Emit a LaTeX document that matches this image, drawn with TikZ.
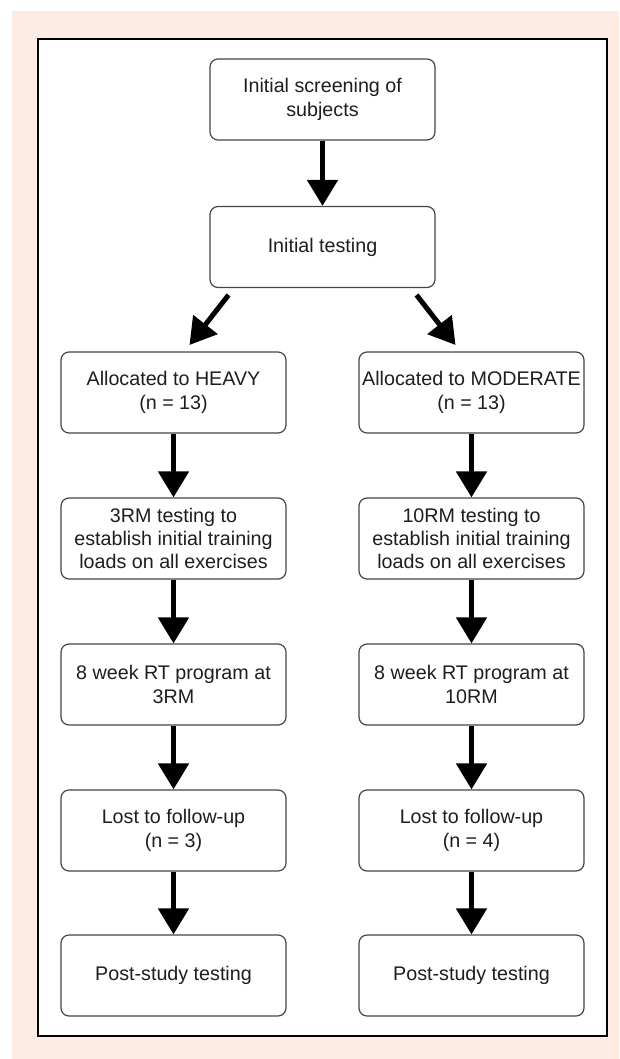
\documentclass[tikz,border=0pt]{standalone}
\usepackage{fontspec}
\setmainfont{Liberation Sans}
\usetikzlibrary{arrows.meta}
\definecolor{peach}{RGB}{253,236,227}
\definecolor{boxline}{RGB}{70,70,70}
\definecolor{txt}{RGB}{30,30,30}
\tikzset{
  flowbox/.style={draw=boxline, line width=1.2pt, rounded corners=8pt, fill=white,
    minimum width=225pt, minimum height=81pt, inner sep=0pt, align=center,
    text=txt, font=\fontsize{19.7}{23.3}\selectfont},
  flowarrow/.style={line width=5pt, -{Triangle[length=26pt,width=30pt]}}
}
\begin{document}
\begin{tikzpicture}[x=1pt,y=-1pt]
\useasboundingbox (0,0) rectangle (619,1059);
\fill[peach] (12,11) rectangle (619,1059);
\draw[line width=2.5pt, fill=white] (38,39) rectangle (607,1036);

\node[flowbox] (screen) at (322.5,99.5) {Initial screening of\\subjects};
\node[flowbox] (init) at (322.5,247) {Initial testing};

\node[flowbox] (heavy) at (173.5,392.5) {Allocated to HEAVY\\(n = 13)};
\node[flowbox] (mod) at (471.5,392.5) {Allocated to MODERATE\\(n = 13)};

\node[flowbox] (t3) at (173.5,538.5) {3RM testing to\\establish initial training\\loads on all exercises};
\node[flowbox] (t10) at (471.5,538.5) {10RM testing to\\establish initial training\\loads on all exercises};

\node[flowbox] (p3) at (173.5,684.5) {8 week RT program at\\3RM};
\node[flowbox] (p10) at (471.5,684.5) {8 week RT program at\\10RM};

\node[flowbox] (l3) at (173.5,830.5) {Lost to follow-up\\(n = 3)};
\node[flowbox] (l4) at (471.5,830.5) {Lost to follow-up\\(n = 4)};

\node[flowbox] (ps1) at (173.5,975.5) {Post-study testing};
\node[flowbox] (ps2) at (471.5,975.5) {Post-study testing};

\coordinate (ls) at (228.5,295);
\coordinate (le) at (189.5,345);
\coordinate (rs) at (416.5,295);
\coordinate (re) at (455.5,345);

\draw[flowarrow] (screen.south) -- (init.north);
\draw[flowarrow] (ls) -- (le);
\draw[flowarrow] (rs) -- (re);
\draw[flowarrow] (heavy.south) -- (t3.north);
\draw[flowarrow] (mod.south) -- (t10.north);
\draw[flowarrow] (t3.south) -- (p3.north);
\draw[flowarrow] (t10.south) -- (p10.north);
\draw[flowarrow] (p3.south) -- (l3.north);
\draw[flowarrow] (p10.south) -- (l4.north);
\draw[flowarrow] (l3.south) -- (ps1.north);
\draw[flowarrow] (l4.south) -- (ps2.north);
\end{tikzpicture}
\end{document}
